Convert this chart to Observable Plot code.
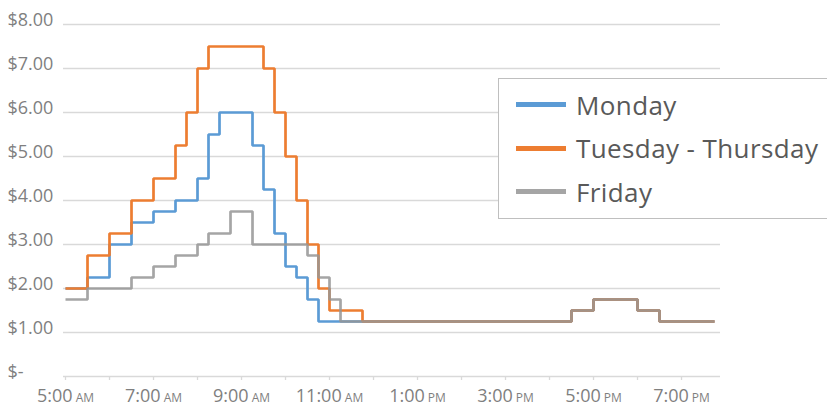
<!DOCTYPE html>
<html><head><meta charset="utf-8">
<script src="https://cdn.jsdelivr.net/npm/d3@7"></script>
<script src="https://cdn.jsdelivr.net/npm/@observablehq/plot@0.6"></script>
<style>
body{margin:0;background:#fff;}
#wrap{position:relative;width:827px;height:408px;overflow:hidden;font-family:"Open Sans",sans-serif;}
#legend{position:absolute;left:498px;top:78px;width:340px;height:141px;border:1.5px solid #bfbfbf;background:#fff;box-sizing:border-box;}
.row{position:absolute;left:17px;height:30px;display:flex;align-items:center;}
.sw{width:50px;height:5px;margin-right:10px;flex:none;}
.lab{font-size:26px;letter-spacing:0.4px;color:#595959;white-space:nowrap;}
</style></head><body><div id="wrap"></div>
<script>
const times = ["5:00","5:30","6:00","6:30","7:00","7:30","7:45","8:00","8:15","8:30","8:45","9:15","9:30","9:45","10:00","10:15","10:30","10:45","11:00","11:15","11:45","16:30","17:00","18:00","18:30","19:45"];
const monday = [2.00,2.25,3.00,3.50,3.75,4.00,4.00,4.50,5.50,6.00,6.00,5.25,4.25,3.25,2.50,2.25,1.75,1.25,1.25,1.25,1.25,1.50,1.75,1.50,1.25,1.25];
const tueThu = [2.00,2.75,3.25,4.00,4.50,5.25,6.00,7.00,7.50,7.50,7.50,7.50,7.00,6.00,5.00,4.00,3.00,2.00,1.50,1.50,1.25,1.50,1.75,1.50,1.25,1.25];
const friday = [1.75,2.00,2.00,2.25,2.50,2.75,2.75,3.00,3.25,3.25,3.75,3.00,3.00,3.00,3.00,3.00,2.75,2.25,1.75,1.25,1.25,1.50,1.75,1.50,1.25,1.25];
const seriesNames = ["Monday","Tuesday - Thursday","Friday"];
const xTickHours = [5,7,9,11,13,15,17,19];
const xTickLabels = ["5:00 AM","7:00 AM","9:00 AM","11:00 AM","1:00 PM","3:00 PM","5:00 PM","7:00 PM"];
const yTicks = [0,1,2,3,4,5,6,7,8];

const colors = ["#5b9bd5","#ed7d31","#959595"];
const hour = s => { const [h, m] = s.split(":").map(Number); return h + m / 60; };
const seriesData = [monday, tueThu, friday].map((vals, i) =>
  times.map((t, j) => ({series: seriesNames[i], t: hour(t), v: vals[j]})));

const plot = Plot.plot({
  width: 827, height: 408,
  marginLeft: 63, marginRight: 107, marginTop: 24, marginBottom: 32,
  style: {fontFamily: "'Open Sans', sans-serif", background: "white"},
  x: {type: "linear", domain: [4.9545, 19.886], label: null},
  y: {domain: [0, 8], label: null},
  marks: [
    Plot.ruleY(yTicks, {stroke: "#d9d9d9", strokeWidth: 1.3}),
    Plot.axisX(d3.range(5, 20), {tickSize: 4, stroke: "#d9d9d9", strokeWidth: 1.3, tickFormat: () => "", label: null}),
    Plot.axisX(xTickHours, {tickSize: 0, tickPadding: 13, fontSize: 18, fill: "#7f7f7f",
      tickFormat: d => xTickLabels[xTickHours.indexOf(d)], label: null}),
    Plot.axisY(yTicks, {tickSize: 0, tickPadding: 0, textAnchor: "start", dx: -56, dy: -4, fontSize: 18, fill: "#7f7f7f",
      tickFormat: v => v === 0 ? "$-" : "$" + v.toFixed(2), label: null}),
    Plot.line(seriesData[0], {x: "t", y: "v", curve: "step-after", stroke: colors[0], strokeWidth: 2.7, strokeLinejoin: "miter", strokeLinecap: "butt"}),
    Plot.line(seriesData[1], {x: "t", y: "v", curve: "step-after", stroke: colors[1], strokeWidth: 2.7, strokeLinejoin: "miter", strokeLinecap: "butt"}),
    Plot.line(seriesData[2], {x: "t", y: "v", curve: "step-after", stroke: colors[2], strokeOpacity: 0.85, strokeWidth: 2.7, strokeLinejoin: "miter", strokeLinecap: "butt"})
  ]
});

plot.querySelectorAll('g[aria-label="x-axis tick label"] text').forEach(t => {
  const m = t.textContent.match(/^(.*) (AM|PM)$/);
  if (m) {
    t.textContent = m[1];
    const ts = document.createElementNS("http://www.w3.org/2000/svg", "tspan");
    ts.setAttribute("font-size", "12");
    ts.textContent = "\u00a0" + m[2];
    t.appendChild(ts);
  }
});

const wrap = document.getElementById("wrap");
wrap.appendChild(plot);

const legend = document.createElement("div");
legend.id = "legend";
const rowCenters = [25.7, 69.2, 112.7];
seriesNames.forEach((name, i) => {
  const row = document.createElement("div");
  row.className = "row";
  row.style.top = (rowCenters[i] - 15) + "px";
  const sw = document.createElement("div");
  sw.className = "sw";
  sw.style.background = i === 2 ? "#a5a5a5" : colors[i];
  const lab = document.createElement("span");
  lab.className = "lab";
  lab.textContent = name;
  row.appendChild(sw); row.appendChild(lab);
  legend.appendChild(row);
});
wrap.appendChild(legend);
</script>
</body></html>
